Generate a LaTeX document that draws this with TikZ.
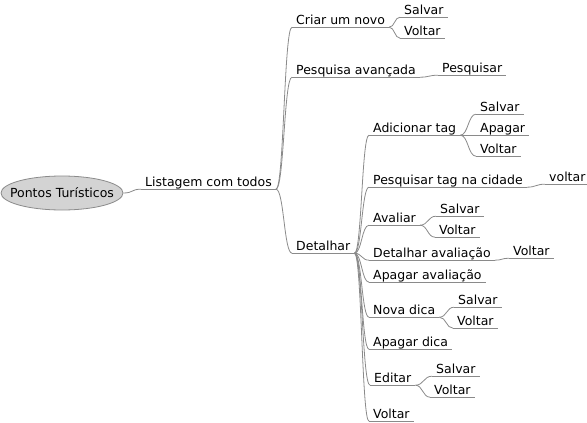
\documentclass[tikz,border=0pt]{standalone}
\usepackage{fontspec}
\setmainfont{DejaVu Sans}
\usetikzlibrary{calc,shapes.geometric}
\definecolor{lineg}{RGB}{138,138,138}
\definecolor{rootfill}{RGB}{211,211,211}
\tikzset{
  mm/.style={anchor=base west, inner xsep=4pt, inner ysep=0pt, text depth=3pt,
    font=\fontsize{12.5}{15}\selectfont, text=black},
  uline/.style={draw=lineg, line width=0.8pt},
  conn/.style={draw=lineg, line width=0.8pt},
  rootnode/.style={ellipse, draw=lineg, fill=rootfill, line width=0.8pt,
    minimum width=122pt, minimum height=34pt, inner xsep=-15pt, inner ysep=0pt,
    font=\fontsize{12.5}{15}\selectfont}
}
\newcommand\mmconn[2]{\draw[conn] let \p1=(#1.south east), \p2=(#2.south west), \n1={(\x2-\x1)/2} in (\p1) .. controls +(\n1,0) and +(-\n1,0) .. (\p2);}
\newcommand\mmnode[4]{\node[mm] (#1) at (#2-4,#3-3) {#4}; \draw[uline] (#1.south west) -- (#1.south east);}
\begin{document}
\begin{tikzpicture}[x=1pt,y=-1pt]
\useasboundingbox (0,0) rectangle (587,423);
\node[rootnode] (root) at (62,193) {Pontos Turísticos};
\mmnode{lst}{145}{189}{Listagem com todos}
\mmnode{cri}{296}{27}{Criar um novo}
\mmnode{criS}{404}{17}{Salvar}
\mmnode{criV}{404}{38}{Voltar}
\mmnode{pav}{296}{77}{Pesquisa avançada}
\mmnode{pavP}{442}{75}{Pesquisar}
\mmnode{det}{296}{253}{Detalhar}
\mmnode{adt}{373}{135}{Adicionar tag}
\mmnode{adtS}{480}{114}{Salvar}
\mmnode{adtA}{480}{135}{Apagar}
\mmnode{adtV}{480}{156}{Voltar}
\mmnode{ptc}{373}{187}{Pesquisar tag na cidade}
\mmnode{ptcV}{549}{184}{voltar}
\mmnode{ava}{373}{225}{Avaliar}
\mmnode{avaS}{440}{216}{Salvar}
\mmnode{avaV}{439}{237}{Voltar}
\mmnode{dav}{373}{260}{Detalhar avaliação}
\mmnode{davV}{513}{258}{Voltar}
\mmnode{apa}{373}{282}{Apagar avaliação}
\mmnode{nd}{373}{317}{Nova dica}
\mmnode{ndS}{458}{307}{Salvar}
\mmnode{ndV}{457}{328}{Voltar}
\mmnode{apd}{373}{349}{Apagar dica}
\mmnode{edi}{374}{385}{Editar}
\mmnode{ediS}{436}{376}{Salvar}
\mmnode{ediV}{434}{397}{Voltar}
\mmnode{vol}{373}{421}{Voltar}
\draw[conn] (root.east) .. controls +(10,0) and +(-10,0) .. (lst.south west);
\mmconn{lst}{cri}
\mmconn{lst}{pav}
\mmconn{lst}{det}
\mmconn{cri}{criS}
\mmconn{cri}{criV}
\mmconn{pav}{pavP}
\mmconn{det}{adt}
\mmconn{det}{ptc}
\mmconn{det}{ava}
\mmconn{det}{dav}
\mmconn{det}{apa}
\mmconn{det}{nd}
\mmconn{det}{apd}
\mmconn{det}{edi}
\mmconn{det}{vol}
\mmconn{adt}{adtS}
\mmconn{adt}{adtA}
\mmconn{adt}{adtV}
\mmconn{ptc}{ptcV}
\mmconn{ava}{avaS}
\mmconn{ava}{avaV}
\mmconn{dav}{davV}
\mmconn{nd}{ndS}
\mmconn{nd}{ndV}
\mmconn{edi}{ediS}
\mmconn{edi}{ediV}
\end{tikzpicture}
\end{document}
